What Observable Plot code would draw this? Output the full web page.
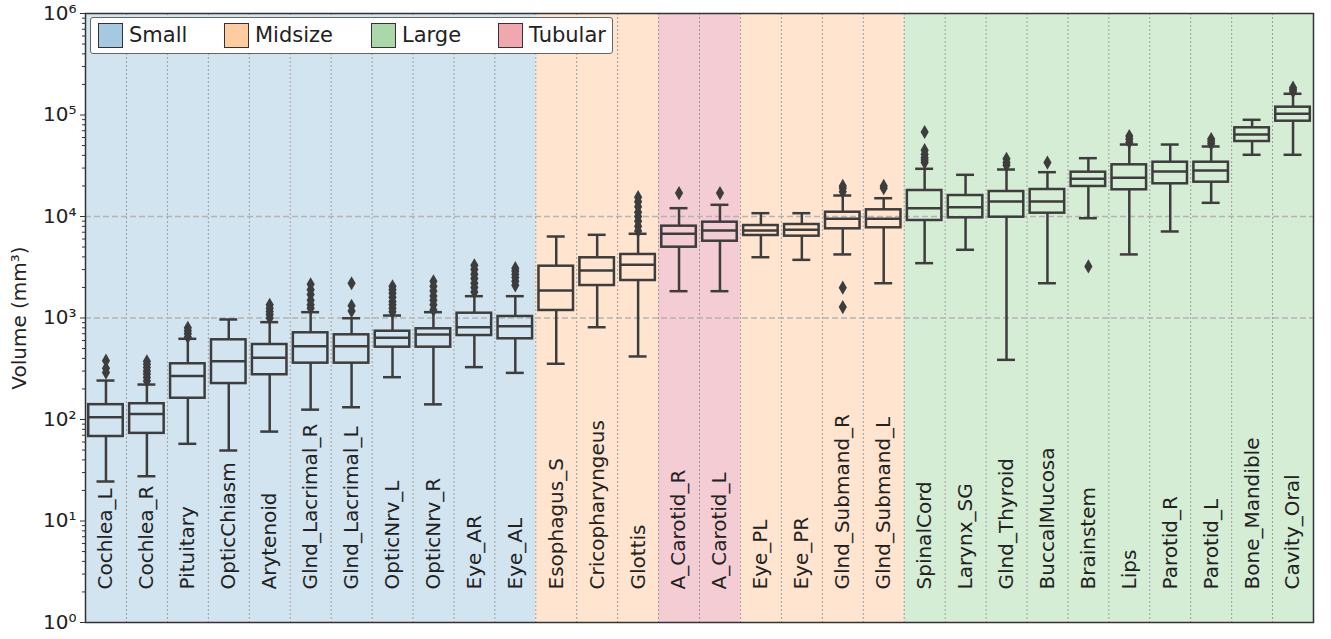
<!DOCTYPE html>
<html><head><meta charset="utf-8">
<script src="https://cdn.jsdelivr.net/npm/d3@7"></script>
<script src="https://cdn.jsdelivr.net/npm/@observablehq/plot@0.6"></script>
<style>
body{margin:0;background:#fff;}
#wrap{position:relative;width:1331px;height:639px;}
.legend{position:absolute;left:90px;top:17px;width:523px;height:37px;box-sizing:border-box;background:#fff;border:1.2px solid #666;border-radius:3px;font-family:"DejaVu Sans";font-size:21px;color:#222;}
.item{position:absolute;top:0;height:35px;}
.patch{position:absolute;top:5px;left:0;width:25px;height:25px;box-sizing:border-box;border:1.5px solid #333;}
.lab{position:absolute;left:31px;top:5px;white-space:nowrap;line-height:24px;}
</style></head>
<body><div id="wrap"></div>
<script>
const categories = ["Cochlea_L","Cochlea_R","Pituitary","OpticChiasm","Arytenoid","Glnd_Lacrimal_R","Glnd_Lacrimal_L","OpticNrv_L","OpticNrv_R","Eye_AR","Eye_AL","Esophagus_S","Cricopharyngeus","Glottis","A_Carotid_R","A_Carotid_L","Eye_PL","Eye_PR","Glnd_Submand_R","Glnd_Submand_L","SpinalCord","Larynx_SG","Glnd_Thyroid","BuccalMucosa","Brainstem","Lips","Parotid_R","Parotid_L","Bone_Mandible","Cavity_Oral"];
const groups = ["Small","Small","Small","Small","Small","Small","Small","Small","Small","Small","Small","Midsize","Midsize","Midsize","Tubular","Tubular","Midsize","Midsize","Midsize","Midsize","Large","Large","Large","Large","Large","Large","Large","Large","Large","Large"];
const whiskerLow = [24.5,27.6,57.6,49.5,76,125,132,261,141,328,288,354,811,418,1837,1837,3970,3740,4230,2200,3470,4700,387,2200,9620,4230,7120,13640,40550,40550];
const q1 = [68,73,162,226,276,359,359,516,516,672,624,1186,2089,2341,4985,5710,6500,6400,7565,7740,9135,9710,9840,10780,19760,18330,21000,21780,54800,86900];
const median = [105,113,269,375,405,527,527,638,688,811,830,1866,2938,3343,6750,7280,7280,7395,9490,9490,12080,12360,14060,14060,23510,24060,27750,28390,64300,102800];
const q3 = [140,143,354,610,548,715,683,741,783,1115,1035,3239,3920,4226,8030,8790,8150,8340,11020,11640,18040,16100,17630,18450,27330,32300,34270,34270,74800,119400];
const whiskerHigh = [242,221,624,967,910,1141,995,1058,1141,1640,1640,6353,6600,6755,12080,13040,10780,10780,16100,15140,29510,25750,29040,27330,37550,51170,51170,48950,89700,161800];
const outliers = [
  [290,320,380],[240,260,280,300,325,350,375],[650,700,750,800],[],[1000,1080,1160,1250,1350],
  [1250,1350,1500,1700,1900,2150],[1170,1320,2200],[1150,1250,1350,1450,1600,1750,1900,2050],
  [1200,1350,1500,1650,1850,2050,2300],[1800,2000,2200,2450,2700,3000,3300],[2100,2300,2500,2700,2900,3100],
  [],[],[7200,8000,9000,10000,11000,12500,14000,15500],[17000],[17000],[],[],
  [1280,1990,17500,19000,20000],[19000,20000],
  [34000,36000,38000,41000,45000,68000],[],[32000,34000,37000],[34000],[3220],
  [54000,58000,62000],[],[52000,55000,58000],[],[170000,178000,186000]
];
const groupNames = ["Small","Midsize","Large","Tubular"];
const bgColors = ["#d2e4f0","#ffe5cf","#d5ecd5","#f4cdd4"];
const patchColors = ["#a5c9e1","#ffcc9f","#abd8ab","#f0a8ae"];
const yTicks = [1,10,100,1e3,1e4,1e5,1e6];
const gridValues = [1e3,1e4];

const sup = {"0":"⁰","1":"¹","2":"²","3":"³","4":"⁴","5":"⁵","6":"⁶"};
const rows = categories.map((c,i)=>({i,c,g:groups[i],lo:whiskerLow[i],q1:q1[i],med:median[i],q3:q3[i],hi:whiskerHigh[i]}));
const outl = outliers.flatMap((vs,i)=>vs.map(v=>({i,v})));
const minor = [];
for (let k=0;k<6;k++) for (let m=2;m<=9;m++) minor.push(m*Math.pow(10,k));
const boxColor = "#3d3d3d";

const chart = Plot.plot({
  width:1331, height:639,
  marginLeft:85, marginRight:18, marginTop:13, marginBottom:17,
  style:{fontFamily:"DejaVu Sans", fontSize:"20px", color:"#222", background:"#fff"},
  x:{type:"linear", domain:[0,categories.length], axis:null},
  y:{type:"log", domain:[1,1e6]},
  color:{domain:groupNames, range:bgColors},
  marks:[
    Plot.rect(rows,{x1:d=>d.i, x2:d=>d.i+1, fill:"g"}),
    Plot.ruleX(d3.range(1,categories.length),{stroke:"#9a9a9a", strokeWidth:1, strokeDasharray:"2,2"}),
    Plot.ruleY(gridValues,{stroke:"#b4b4b4", strokeWidth:1.3, strokeDasharray:"6,3"}),
    Plot.ruleX(rows,{x:d=>d.i+0.5, y1:"lo", y2:"q1", stroke:boxColor, strokeWidth:2.5}),
    Plot.ruleX(rows,{x:d=>d.i+0.5, y1:"q3", y2:"hi", stroke:boxColor, strokeWidth:2.5}),
    Plot.ruleY(rows,{y:"lo", x1:d=>d.i, x2:d=>d.i+1, inset:11.5, stroke:boxColor, strokeWidth:2.5}),
    Plot.ruleY(rows,{y:"hi", x1:d=>d.i, x2:d=>d.i+1, inset:11.5, stroke:boxColor, strokeWidth:2.5}),
    Plot.rect(rows,{x1:d=>d.i, x2:d=>d.i+1, y1:"q1", y2:"q3", insetLeft:3.2, insetRight:3.2, fill:"none", stroke:boxColor, strokeWidth:2.5}),
    Plot.ruleY(rows,{y:"med", x1:d=>d.i, x2:d=>d.i+1, insetLeft:3.2, insetRight:3.2, stroke:boxColor, strokeWidth:2.5}),
    Plot.dot(outl,{x:d=>d.i+0.5, y:"v", symbol:"diamond", r:4.3, fill:boxColor, stroke:"none"}),
    Plot.text(rows,{x:d=>d.i+0.5, text:"c", frameAnchor:"bottom", rotate:-90, textAnchor:"start", lineAnchor:"middle", dy:-33, fontSize:20, fill:"#222"}),
    Plot.axisY(minor,{tickSize:3, tickFormat:()=>"", label:null, stroke:"#333"}),
    Plot.axisY({ticks:yTicks, tickSize:5, tickPadding:4, tickFormat:d=>"10"+sup[String(Math.round(Math.log10(d)))], label:"Volume (mm³)", labelAnchor:"center", labelOffset:74, labelArrow:"none", stroke:"#333", fontSize:20}),
    Plot.frame({stroke:"#333", strokeWidth:1.5})
  ]
});
const wrap = document.getElementById("wrap");
wrap.appendChild(chart);
const leg = document.createElement("div");
leg.className = "legend";
const lefts = [7,133,280,407];
groupNames.forEach((g,k)=>{
  const it = document.createElement("div");
  it.className="item"; it.style.left = lefts[k]+"px";
  it.innerHTML = `<div class="patch" style="background:${patchColors[k]}"></div><div class="lab">${g}</div>`;
  leg.appendChild(it);
});
wrap.appendChild(leg);
</script>
</body></html>
